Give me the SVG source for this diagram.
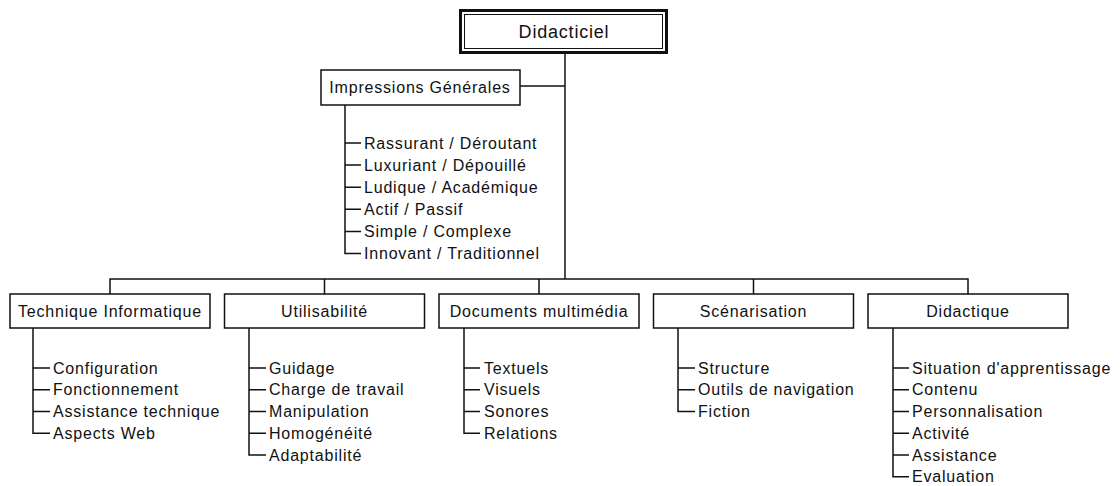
<svg xmlns="http://www.w3.org/2000/svg" width="1120" height="486" viewBox="0 0 1120 486">
<style>
  .box { fill: #fff; stroke: #111; stroke-width: 1.5; }
  .line { fill: none; stroke: #111; stroke-width: 1.5; }
  .t { font-family: "Liberation Sans", Arial, sans-serif; font-size: 16px; letter-spacing: 0.8px; fill: #111; }
  .c { text-anchor: middle; }
  .big { font-size: 18px; }
</style>
<rect width="1120" height="486" fill="#fff"/>
<g id="connectors">
  <path class="line" d="M565 53 V279"/>
  <path class="line" d="M520 86 H565"/>
  <path class="line" d="M110 294 V279 H968 V294"/>
  <path class="line" d="M324.5 279 V294 M539 279 V294 M753.5 279 V294"/>
  <!-- Impressions items -->
  <path class="line" d="M345 105 V253.5 H361 M345 143 H361 M345 165.1 H361 M345 187.2 H361 M345 209.3 H361 M345 231.4 H361"/>
  <!-- Technique -->
  <path class="line" d="M33 328 V433.3 H50 M33 368 H50 M33 389.8 H50 M33 411.5 H50"/>
  <!-- Utilisabilite -->
  <path class="line" d="M249 328 V455 H266 M249 368 H266 M249 389.8 H266 M249 411.5 H266 M249 433.3 H266"/>
  <!-- Documents -->
  <path class="line" d="M464 328 V433.3 H480 M464 368 H480 M464 389.8 H480 M464 411.5 H480"/>
  <!-- Scenarisation -->
  <path class="line" d="M678 328 V411.5 H695 M678 368 H695 M678 389.8 H695"/>
  <!-- Didactique -->
  <path class="line" d="M893 328 V476.8 H909 M893 368 H909 M893 389.8 H909 M893 411.5 H909 M893 433.3 H909 M893 455 H909"/>
</g>
<g id="node-didacticiel">
  <rect x="460.5" y="10.5" width="206" height="42" fill="#fff" stroke="#111" stroke-width="3"/>
  <rect x="464.5" y="14.5" width="198" height="34" fill="none" stroke="#111" stroke-width="1"/>
  <text class="t big c" x="564" y="37.5">Didacticiel</text>
</g>
<g id="node-impressions">
  <rect class="box" x="321" y="70" width="199" height="35"/>
  <text class="t c" x="420" y="93">Impressions Générales</text>
  <text class="t" x="364" y="148.5">Rassurant / Déroutant</text>
  <text class="t" x="364" y="170.6">Luxuriant / Dépouillé</text>
  <text class="t" x="364" y="192.7">Ludique / Académique</text>
  <text class="t" x="364" y="214.8">Actif / Passif</text>
  <text class="t" x="364" y="236.9">Simple / Complexe</text>
  <text class="t" x="364" y="259">Innovant / Traditionnel</text>
</g>
<g id="node-technique">
  <rect class="box" x="10" y="294" width="200" height="34"/>
  <text class="t c" x="110" y="316.5">Technique Informatique</text>
  <text class="t" x="53" y="373.5">Configuration</text>
  <text class="t" x="53" y="395.3">Fonctionnement</text>
  <text class="t" x="53" y="417">Assistance technique</text>
  <text class="t" x="53" y="438.8">Aspects Web</text>
</g>
<g id="node-utilisabilite">
  <rect class="box" x="224.5" y="294" width="200" height="34"/>
  <text class="t c" x="324.5" y="316.5">Utilisabilité</text>
  <text class="t" x="269" y="373.5">Guidage</text>
  <text class="t" x="269" y="395.3">Charge de travail</text>
  <text class="t" x="269" y="417">Manipulation</text>
  <text class="t" x="269" y="438.8">Homogénéité</text>
  <text class="t" x="269" y="460.5">Adaptabilité</text>
</g>
<g id="node-documents">
  <rect class="box" x="439" y="294" width="200" height="34"/>
  <text class="t c" x="539" y="316.5">Documents multimédia</text>
  <text class="t" x="484" y="373.5">Textuels</text>
  <text class="t" x="484" y="395.3">Visuels</text>
  <text class="t" x="484" y="417">Sonores</text>
  <text class="t" x="484" y="438.8">Relations</text>
</g>
<g id="node-scenarisation">
  <rect class="box" x="653.5" y="294" width="200" height="34"/>
  <text class="t c" x="753.5" y="316.5">Scénarisation</text>
  <text class="t" x="698" y="373.5">Structure</text>
  <text class="t" x="698" y="395.3">Outils de navigation</text>
  <text class="t" x="698" y="417">Fiction</text>
</g>
<g id="node-didactique">
  <rect class="box" x="868" y="294" width="200" height="34"/>
  <text class="t c" x="968" y="316.5">Didactique</text>
  <text class="t" x="912" y="373.5">Situation d'apprentissage</text>
  <text class="t" x="912" y="395.3">Contenu</text>
  <text class="t" x="912" y="417">Personnalisation</text>
  <text class="t" x="912" y="438.8">Activité</text>
  <text class="t" x="912" y="460.5">Assistance</text>
  <text class="t" x="912" y="482.3">Evaluation</text>
</g>
</svg>
